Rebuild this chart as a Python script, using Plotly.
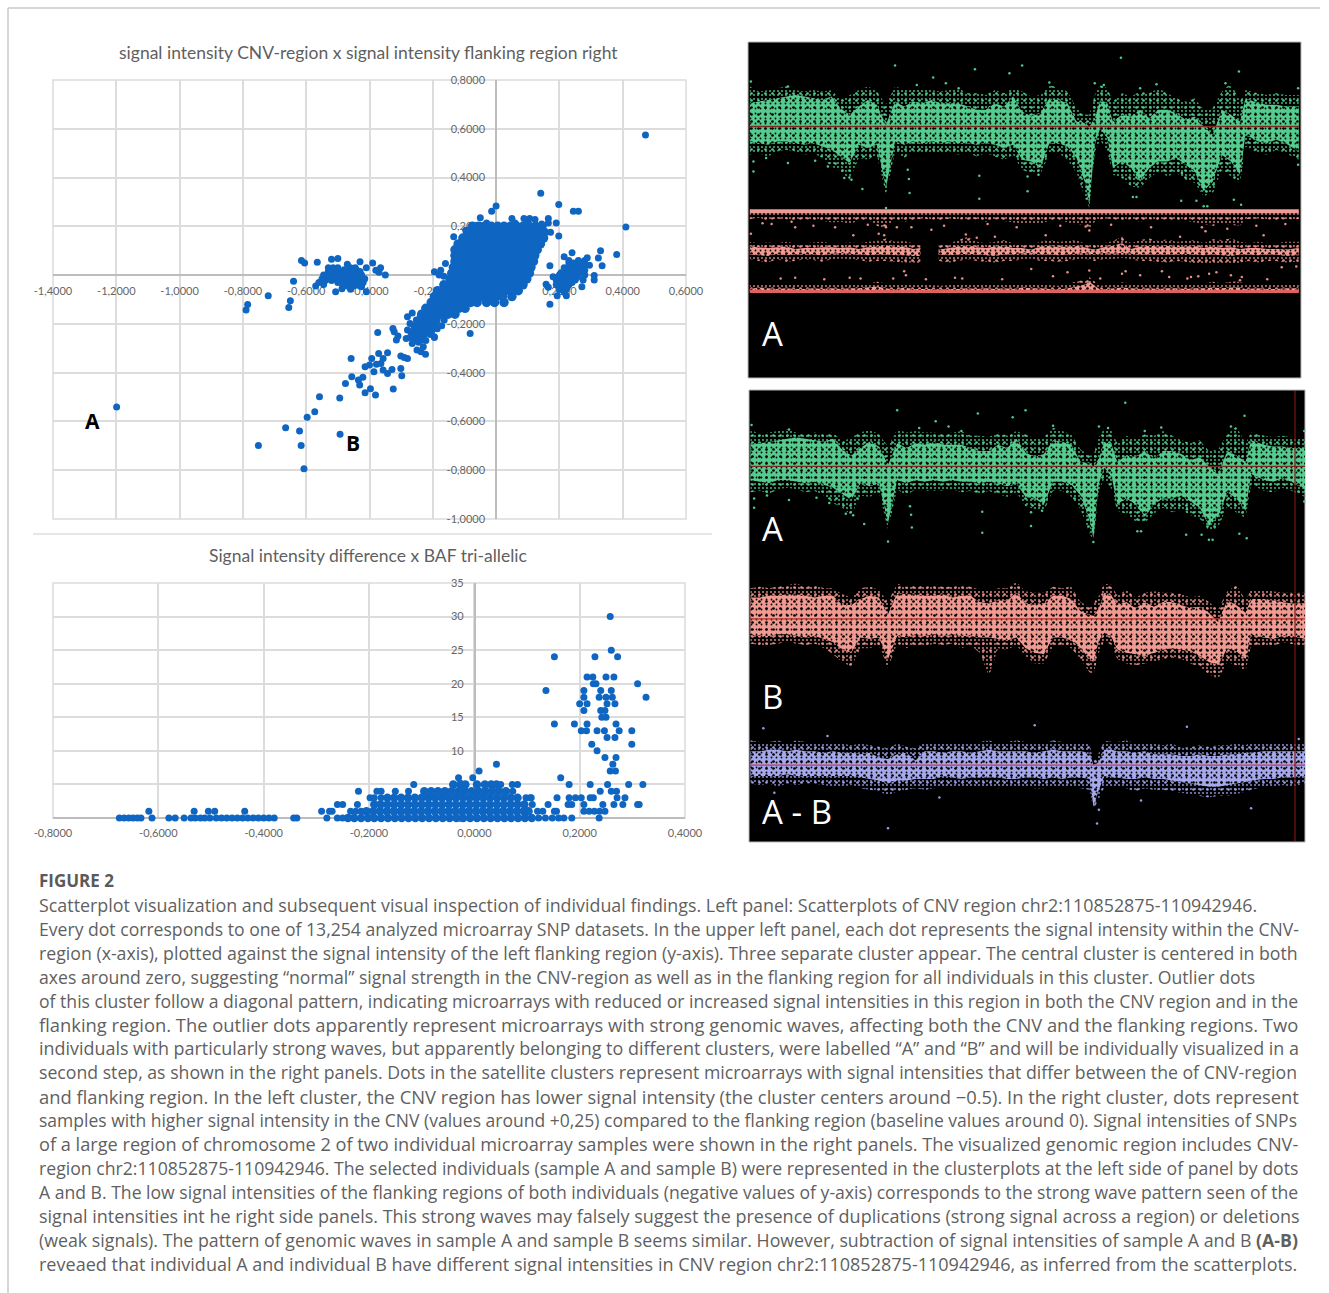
import plotly.graph_objects as go

W, H = 1329, 1293
def px(v): return v / W
def py(v): return 1 - v / H

# ---------- upper scatter: CNV-region x flanking region ----------
central_rows = [
 (.20,[-.075,-.055,-.035,-.015,.005,.025,.045,.065,.085,.105,.125,.145]),
 (.176,[-.09,-.068,-.046,-.024,-.002,.02,.042,.064,.086,.108,.13,.152]),
 (.152,[-.105,-.083,-.061,-.039,-.017,.005,.027,.049,.071,.093,.115,.137,.15]),
 (.128,[-.12,-.098,-.076,-.054,-.032,-.01,.012,.034,.056,.078,.10,.122,.14]),
 (.104,[-.13,-.108,-.086,-.064,-.042,-.02,.002,.024,.046,.068,.09,.112,.13]),
 (.08,[-.13,-.113,-.091,-.069,-.047,-.025,-.003,.019,.041,.063,.085,.107,.122]),
 (.056,[-.13,-.115,-.093,-.071,-.049,-.027,-.005,.017,.039,.061,.083,.105,.118]),
 (.032,[-.135,-.118,-.096,-.074,-.052,-.03,-.008,.014,.036,.058,.08,.102,.11]),
 (.008,[-.14,-.123,-.101,-.079,-.057,-.035,-.013,.009,.031,.053,.075,.097,.105]),
 (-.016,[-.145,-.13,-.108,-.086,-.064,-.042,-.02,.002,.024,.046,.068,.09,.097]),
 (-.04,[-.165,-.15,-.128,-.106,-.084,-.062,-.04,-.018,.004,.026,.048,.07,.085]),
 (-.064,[-.185,-.168,-.146,-.124,-.102,-.08,-.058,-.036,-.014,.008,.03,.052,.07]),
 (-.088,[-.195,-.178,-.156,-.134,-.112,-.09,-.068,-.046,-.024,-.002,.02,.05]),
 (-.112,[-.205,-.19,-.168,-.146,-.124,-.102,-.08,-.06,-.03,-.005,.025]),
 (-.136,[-.222,-.206,-.184,-.162,-.14,-.118,-.098]),
 (-.16,[-.235,-.218,-.196,-.174,-.152,-.13]),
]
central_edge_points = [
 (.05,.232),(.088,.232),(.106,.232),(.123,.228),(.165,.232),(-.03,.214),(.06,.214),(.10,.214),(.144,.21),(.165,.214),(.19,.214),(.172,.176),
 (-.18,.0),(-.195,.014),(-.16,.048),(-.134,.157),(-.096,.184),(-.175,.02),(-.165,-.005),
 (-.252,-.184),(-.23,-.184),(-.208,-.184),(-.186,-.184),(-.164,-.184),(-.26,-.208),(-.238,-.208),(-.216,-.208),(-.194,-.208),(-.172,-.208),
 (-.27,-.232),(-.248,-.232),(-.226,-.232),(-.204,-.232),(-.272,-.256),(-.25,-.256),(-.23,-.256),(-.195,-.256),
 (-.24,-.172),(-.222,-.172),(-.204,-.172),(-.186,-.172),(-.245,-.196),(-.227,-.196),(-.209,-.196),(-.191,-.196),(-.258,-.22),(-.24,-.22),(-.222,-.22),(-.204,-.22),(-.186,-.22),
 (-.262,-.244),(-.244,-.244),(-.226,-.244),(-.208,-.244),(-.26,-.268),(-.24,-.268),(-.222,-.268),
]
diagonal_points = [
 (.472,.574),(.141,.336),(.198,.29),(.244,.262),(.26,.262),(.41,.197),(0,.283),(-.014,.262),(-.05,.235),
 (.198,.16),
 (-.082,-.239),(-.374,-.235),(-.326,-.219),(-.322,-.232),(-.31,-.25),(-.315,-.266),(-.284,-.26),
 (-.265,-.28),(-.245,-.275),(-.23,-.294),(-.25,-.307),(-.237,-.314),(-.223,-.324),(-.195,-.253),(-.28,-.171),
 (-.265,-.155),(-.272,-.198),(-.28,-.225),(-.458,-.342),(-.393,-.342),(-.371,-.321),(-.357,-.342),(-.343,-.318),
 (-.364,-.362),(-.378,-.365),(-.4,-.369),(-.414,-.376),(-.386,-.396),(-.357,-.389),(-.343,-.403),(-.329,-.387),
 (-.301,-.383),(-.298,-.413),(-.301,-.332),(-.28,-.342),(-.29,-.338),(-.456,-.417),(-.421,-.419),(-.435,-.43),
 (-.431,-.451),(-.476,-.444),(-.414,-.482),(-.397,-.466),(-.381,-.492),(-.325,-.467),(-.494,-.504),(-.558,-.499),
 (-.573,-.56),(-.597,-.583),(-.665,-.626),(-.621,-.639),(-.616,-.699),(-.751,-.699),(-.607,-.794),(-.493,-.653),
 (-1.199,-.541),
]
left_cluster = [
 (-.53,.03),(-.515,.03),(-.5,.03),(-.46,.03),(-.445,.03),
 (-.53,.015),(-.51,.015),(-.49,.015),(-.47,.015),(-.45,.015),(-.43,.015),
 (-.545,0),(-.525,0),(-.505,0),(-.485,0),(-.465,0),(-.445,0),(-.425,0),
 (-.55,-.015),(-.53,-.015),(-.51,-.015),(-.49,-.015),(-.47,-.015),(-.45,-.015),(-.43,-.015),(-.415,-.015),
 (-.56,-.03),(-.5,-.03),(-.48,-.03),(-.46,-.03),(-.44,-.03),(-.42,-.03),
 (-.57,-.045),(-.47,-.045),(-.45,-.045),(-.43,-.045),
 (-.52,.022),(-.5,.022),(-.48,.022),(-.455,.022),(-.52,.008),(-.5,.008),(-.48,.008),(-.46,.008),(-.44,.008),
 (-.535,-.008),(-.515,-.008),(-.495,-.008),(-.475,-.008),(-.455,-.008),(-.435,-.008),(-.54,-.022),(-.52,-.022),
 (-.5,-.022),(-.48,-.022),(-.46,-.022),(-.44,-.022),(-.425,-.038),(-.445,-.038),(-.465,-.038),(-.485,-.038),(-.545,-.038),
 (-.615,.06),(-.605,.05),(-.565,.053),(-.64,-.025),(-.52,.065),(-.5,.068),(-.47,.045),(-.43,.055),(-.39,.05),
 (-.365,.03),(-.38,.02),(-.41,.03),(-.35,0),(-.37,.012),(-.507,-.068),(-.487,-.056),(-.46,-.058),(-.425,-.048),
 (-.41,-.068),(-.65,-.105),(-.655,-.133),(-.72,-.085),(-.785,-.12),(-.79,-.143),(-.44,.02),
]
right_cluster = [
 (.26,.06),(.28,.06),(.24,.04),(.26,.04),(.28,.04),(.22,.02),(.24,.02),(.26,.02),(.28,.02),
 (.2,0),(.22,0),(.24,0),(.26,0),(.19,-.02),(.21,-.02),(.23,-.02),(.25,-.02),(.19,-.04),(.21,-.04),(.23,-.04),
 (.2,-.06),(.22,-.06),(.215,.075),(.24,.092),(.23,.06),(.17,.038),(.158,-.037),(.18,-.007),(.17,-.119),
 (.205,.01),(.215,.03),(.23,.05),(.245,.05),(.27,.05),(.25,.03),(.27,.03),(.23,.03),(.21,.01),(.23,.01),(.25,.01),(.27,.01),
 (.195,-.01),(.215,-.01),(.235,-.01),(.255,-.01),(.2,-.03),(.22,-.03),(.24,-.03),(.205,-.05),(.225,-.05),(.28,.0),(.275,-.02),
 (.165,-.05),(.193,-.085),(.222,-.085),(.215,-.07),(.271,-.048),(.31,-.02),(.31,-.002),(.288,.071),(.295,.04),
 (.33,.10),(.323,.07),(.335,.038),(.381,.085),
]
upper_x_ticks = [-1.4,-1.2,-1.0,-.8,-.6,-.4,-.2,0,.2,.4,.6]
upper_x_labels = ["-1,4000","-1,2000","-1,0000","-0,8000","-0,6000","-0,4000","-0,2000","0,0000","0,2000","0,4000","0,6000"]
upper_y_ticks = [.8,.6,.4,.2,0,-.2,-.4,-.6,-.8,-1.0]
upper_y_labels = ["0,8000","0,6000","0,4000","0,2000","0,0000","-0,2000","-0,4000","-0,6000","-0,8000","-1,0000"]

# ---------- lower scatter: intensity difference x BAF tri-allelic ----------
dense_count_rows = {
 0:[-.24,-.228,-.215,-.202,-.19,-.177,-.164,-.151,-.138,-.125,-.112,-.099,-.086,-.073,-.06,-.047,-.034,-.021,-.008,.005,.018,.031,.044,.057,.07,.083,.096,.109],
 1:[-.205,-.192,-.179,-.166,-.153,-.14,-.127,-.114,-.101,-.088,-.075,-.062,-.049,-.036,-.023,-.01,.003,.016,.029,.042,.055,.068,.081,.094,.103],
 2:[-.19,-.178,-.165,-.152,-.139,-.126,-.113,-.1,-.087,-.074,-.061,-.048,-.035,-.022,-.009,.004,.017,.03,.043,.056,.069,.082,.095],
 3:[-.165,-.152,-.139,-.126,-.113,-.1,-.087,-.074,-.061,-.048,-.035,-.022,-.009,.004,.017,.03,.043,.056,.069,.082],
 4:[-.095,-.082,-.069,-.056,-.043,-.03,-.018,-.005,.008,.021,.034,.047,.06],
 5:[-.04,-.027,-.017,.005,.02,.032,.042],
}
count_rows = {
 0:[-.674,-.665,-.656,-.648,-.64,-.633,-.612,-.58,-.568,-.551,-.538,-.53,-.52,-.512,-.502,-.49,-.48,-.47,-.46,-.45,-.44,-.43,-.42,-.41,-.40,-.39,-.38,-.343,-.337,
    -.28,-.26,-.25,.122,.135,.148,.16,.17,.185,.237],
 1:[-.618,-.532,-.505,-.493,-.436,-.29,-.275,-.27,-.235,-.225,-.215,.12,.13,.152,.156,.208,.218,.228,.238,.248],
 2:[-.26,-.25,-.222,.11,.14,.178,.185,.208,.244,.265,.282,.31,.313],
 3:[-.198,-.19,-.177,.098,.106,.108,.157,.18,.192,.203,.22,.226,.271,.286],
 4:[-.22,-.185,-.177,-.15,-.125,.073,.239,.26,.27],
 5:[-.115,.05,.072,.082,.18,.22,.253,.293,.32],
 6:[-.03,-.003,.164],
 7:[.009,.258,.268],
 8:[.042,.263],
 9:[.248,.269],
 10:[.233],
 11:[.223,.299],
 12:[.252,.267],
 13:[.203,.213,.233,.247,.275,.299],
 14:[.152,.19,.214,.269],
 15:[.242,.25],
 16:[.208,.24,.248],
 17:[.2,.214,.252,.267],
 18:[.208,.237,.25,.262,.326],
 19:[.136,.208,.24,.26],
 20:[.226,.231,.31],
 21:[.214,.225,.25,.265],
 24:[.152,.229,.272],
 25:[.26],
 30:[.258],
}
lower_x_ticks = [-.8,-.6,-.4,-.2,0,.2,.4]
lower_x_labels = ["-0,8000","-0,6000","-0,4000","-0,2000","0,0000","0,2000","0,4000"]
lower_y_ticks = [0,5,10,15,20,25,30,35]
lower_y_labels = ["0","5","10","15","20","25","30","35"]

# ---------- genome browser tracks ----------
wave_pos = [25,50,75,100,125,150,175,200,225,250,
 275,300,325,350,375,400,425,450,475,500,
 525,550,575,600,625,650,675,700,725,750,
 775,800,825,850,875,900,925,950,960,975,
 990,1010,1025,1050,1075,1100,1125,1150,1175,1200,
 1225,1250,1275,1300,1325,1350,1375,1390,1425,1450,
 1475,1500,1537]
a_core_top = [.70,.75,.80,.85,.90,.95,.90,.85,.80,.90,
 .55,.35,.60,.80,.65,.05,.75,.60,.75,.70,
 .80,.70,.70,.70,.60,.50,.50,.70,.60,.90,
 .45,.30,.40,.85,.80,.70,.15,.10,0,.25,
 .80,.70,.15,.35,.30,.50,.25,.50,.50,.40,
 .20,.30,0,-.25,.50,.35,.15,.85,.70,.65,
 .65,.60,.60]
a_core_low = [-.45,-.50,-.55,-.45,-.45,-.50,-.55,-.50,-.60,-.70,
 -.90,-1.10,-.55,-.65,-.55,-1.85,-.45,-.55,-.45,-.50,
 -.45,-.50,-.45,-.50,-.50,-.55,-.50,-.55,-.65,-.55,
 -1.00,-1.05,-1.25,-.50,-.50,-.60,-.95,-1.75,-2.35,-.55,
 -.05,-.35,-1.25,-1.05,-1.25,-1.65,-1.25,-1.05,-1.05,-.95,
 -1.15,-1.35,-1.95,-1.65,-.85,-1.05,-1.45,-.25,-.45,-.50,
 -.40,-.50,-.75]
a_halo_top = [1.2,1.05,1.1,1.15,1.2,1.1,1.05,1.1,1.05,1.1,
 .8,.95,1.1,1.2,1.05,.65,1.2,1.1,1.15,1.1,
 1.1,1.05,1.1,1.15,1.0,1.0,.95,1.1,1.0,1.15,
 1.05,.9,.95,1.25,1.15,1.05,.55,.35,.35,.95,
 1.25,1.15,.75,1.0,.9,1.05,1.0,1.15,1.0,.85,
 .75,.85,.5,.55,1.05,1.3,.75,1.1,1.0,.95,
 1.0,.95,.95]
a_halo_low = [-.85,-.8,-.9,-.75,-.7,-.75,-.85,-.8,-.95,-1.2,
 -1.35,-1.6,-.95,-1.0,-.85,-2.05,-.75,-.95,-.75,-.8,
 -.8,-.8,-.75,-.85,-.8,-.9,-.8,-.9,-1.0,-.85,
 -1.3,-1.4,-1.45,-.8,-.8,-1.0,-1.4,-2.2,-2.45,-.8,
 -.4,-.75,-1.45,-1.55,-1.8,-1.85,-1.55,-1.35,-1.5,-1.4,
 -1.6,-1.7,-2.1,-2.0,-1.3,-1.5,-1.7,-.6,-.8,-.85,
 -.7,-.8,-1.0]
a_dot_pos = [28,425,645,775,740,1047,1372,530,35,35,130,205,285,305,335,400,463,465,657,657,790,790,1000,975,1335,1080,1090,1213,1255,1275,1285,1378,1358,1535,960,130,600,485,565,850,1145,1100,1535,70,240,460,820,1215]
a_dot_val = [1.35,1.83,1.72,1.83,1.6,2.07,1.65,1.47,-1.05,-1.35,-1.1,-1.03,-1.55,-1.6,-1.88,-2.45,-1.58,-2.0,-1.48,-2.17,-1.5,-1.95,1.25,1.3,1.3,-2.12,-2.12,-2.23,-2.23,-2.4,-2.4,-2.35,-2.2,-1.15,-2.47,1.2,1.15,1.25,1.3,1.32,1.27,1.15,1.15,-.95,-1.2,-1.3,-1.45,-1.4]

b_core_top = [.7,.7,.75,.75,.8,.8,.75,.7,.75,.75,
 .45,.45,.65,.75,.7,.15,.85,.8,.8,.75,
 .75,.8,.7,.75,.75,.55,.5,.6,.6,.85,
 .5,.45,.5,.75,.75,.65,.25,.15,.1,.35,
 .85,.75,.45,.55,.35,.55,.4,.55,.55,.45,
 .35,.4,.2,-.1,.6,.45,.2,.65,.65,.6,
 .55,.5,.5]
b_core_low = [-.5,-.55,-.55,-.5,-.5,-.55,-.6,-.55,-.65,-.75,
 -1.0,-1.1,-.6,-.65,-.6,-1.3,-.55,-.6,-.5,-.55,
 -.5,-.55,-.5,-.55,-.55,-.6,-.6,-.65,-.7,-.6,
 -.95,-1.1,-1.15,-.6,-.6,-.7,-.95,-1.3,-1.4,-.7,
 -.45,-.6,-1.0,-1.1,-1.15,-1.2,-1.1,-1.0,-.95,-1.0,
 -1.05,-1.2,-1.4,-1.5,-.95,-1.05,-1.3,-.5,-.6,-.65,
 -.55,-.55,-.65]
b_halo_top = [1.0,1.05,1.0,1.05,1.1,1.15,1.05,1.1,1.0,1.0,
 .8,.7,1.0,1.05,.95,.55,1.15,1.05,1.1,1.05,
 1.1,1.05,1.05,1.1,1.05,.95,.9,1.0,1.0,1.2,
 .9,.85,.85,1.05,1.0,1.05,.55,.4,.5,.75,
 1.15,1.1,.75,.95,.7,.85,.9,.85,.85,.8,
 .7,.75,.55,.3,.9,1.1,.6,.95,.95,.9,
 .85,.85,.85]
b_halo_low = [-.8,-.85,-.85,-.8,-.75,-.8,-.85,-.8,-.95,-1.15,
 -1.4,-1.55,-.95,-.95,-.85,-1.6,-.8,-.95,-.85,-.9,
 -.8,-.85,-.8,-.95,-.85,-1.1,-1.85,-.95,-1.0,-.85,
 -1.2,-1.45,-1.45,-.9,-.85,-.95,-1.3,-1.75,-1.8,-1.1,
 -.7,-.85,-1.3,-1.45,-1.5,-1.45,-1.4,-1.3,-1.25,-1.3,
 -1.45,-1.55,-1.8,-1.95,-1.4,-1.5,-1.7,-.85,-.85,-.9,
 -.75,-.8,-.9]

ab_core_top = [.45,.45,.5,.5,.45,.5,.45,.45,.4,.45,
 .4,.4,.35,.4,.25,.2,.35,.4,.15,.45,
 .45,.4,.45,.45,.4,.45,.5,.45,.45,.45,
 .45,.4,.45,.5,.45,.45,.45,.4,.0,.1,
 .5,.5,.45,.45,.4,.45,.35,.35,.35,.3,
 .3,.35,.3,.3,.35,.35,.4,.4,.45,.45,
 .45,.45,.45]
ab_core_low = [-.35,-.35,-.35,-.35,-.3,-.35,-.35,-.35,-.35,-.35,
 -.35,-.35,-.4,-.45,-.5,-.6,-.5,-.5,-.45,-.45,
 -.45,-.35,-.4,-.45,-.4,-.4,-.4,-.4,-.45,-.45,
 -.4,-.4,-.45,-.4,-.45,-.4,-.4,-.45,-1.35,-.8,
 -.35,-.4,-.4,-.45,-.45,-.4,-.45,-.45,-.5,-.55,
 -.6,-.65,-.7,-.7,-.65,-.6,-.55,-.5,-.45,-.45,
 -.4,-.4,-.35]
ab_halo_top = [.8,.75,.75,.8,.7,.8,.75,.7,.75,.7,
 .7,.65,.7,.65,.6,.55,.7,.6,.55,.75,
 .7,.7,.75,.7,.75,.75,.8,.7,.75,.8,
 .75,.7,.7,.8,.75,.7,.75,.7,.1,.4,
 .8,.75,.75,.8,.7,.7,.7,.65,.7,.55,
 .6,.65,.6,.65,.65,.7,.65,.75,.7,.75,
 .7,.7,.75]
ab_halo_low = [-.6,-.65,-.6,-.7,-.6,-.65,-.6,-.6,-.65,-.7,
 -.7,-.65,-.75,-.8,-.85,-1.0,-.85,-.8,-.75,-.8,
 -.75,-.7,-.7,-.75,-.7,-.7,-.7,-.75,-.7,-.75,
 -.7,-.75,-.75,-.7,-.7,-.7,-.75,-.8,-1.45,-1.1,
 -.7,-.7,-.7,-.75,-.85,-.75,-.8,-.8,-.85,-.9,
 -.95,-1.0,-1.05,-1.0,-1.0,-.95,-.85,-.8,-.7,-.7,
 -.65,-.7,-.6]
ab_dot_pos = [60,800,1215,400,970,975,1520,540,90,1390,1090,235]
ab_dot_val = [1.2,1.3,1.25,-2.05,-1.9,-1.45,.85,-1.05,-.9,-1.4,-1.15,.95]

baf_top_low = [.90,.92,.88,.91,.90,.88,.90,.89,.88,.86,
 .87,.84,.88,.90,.82,.78,.90,.87,.89,.91,
 .90,.88,.91,.90,.89,.90,.87,.90,.88,.86,
 .84,.85,.84,.88,.89,.86,.83,.84,.76,.87,
 .90,.91,.90,.88,.90,.87,.90,.88,.90,.88,
 .88,.86,.84,.82,.85,.83,.82,.90,.91,.90,
 .88,.90,.90]
baf_low_core = [.03,.05,.04,.03,.04,.03,.03,.04,.03,.04,
 .03,.04,.04,.05,.06,.04,.02,.05,.03,.03,
 .03,.02,.03,.03,.04,.03,.04,.03,.04,.03,
 .05,.04,.04,.03,.02,.04,.06,.09,.12,.07,
 .02,.03,.04,.05,.04,.03,.04,.03,.04,.04,
 .03,.04,.04,.05,.04,.05,.05,.03,.04,.03,
 .03,.04,.04]
baf_low_halo = [.08,.10,.08,.09,.09,.08,.08,.10,.08,.09,
 .08,.10,.09,.10,.12,.10,.08,.10,.08,.08,
 .08,.07,.08,.08,.09,.08,.09,.08,.09,.08,
 .10,.09,.10,.08,.07,.10,.12,.15,.18,.12,
 .07,.08,.10,.11,.10,.09,.10,.09,.10,.09,
 .09,.10,.10,.12,.10,.12,.12,.08,.09,.08,
 .08,.09,.09]
baf_mid_pos_left = [25,50,75,100,125,150,175,200,225,250,275,300,325,350,375,400,425,450,475,495]
baf_mid_top_left = [.56,.55,.54,.55,.56,.53,.54,.54,.55,.55,.54,.55,.53,.55,.56,.58,.55,.56,.53,.54]
baf_mid_low_left = [.46,.45,.44,.47,.45,.46,.47,.46,.45,.47,.48,.47,.46,.45,.46,.46,.45,.45,.44,.44]
baf_halo_top_left = [.62,.60,.61,.60,.62,.60,.60,.61,.62,.60,.60,.61,.60,.62,.63,.66,.62,.63,.60,.60]
baf_halo_low_left = [.40,.38,.36,.40,.37,.38,.40,.39,.37,.40,.41,.40,.39,.37,.38,.38,.37,.36,.36,.35]
baf_mid_pos_right = [545,575,600,625,650,675,700,725,750,775,800,825,850,875,900,925,945,975,1000,1025,1050,1075,1100,1125,1150,1175,1200,1225,1250,1275,1300,1325,1350,1375,1400,1425,1450,1475,1500,1537]
baf_mid_top_right = [.52,.54,.56,.58,.55,.54,.56,.57,.54,.54,.52,.56,.57,.55,.56,.57,.55,.52,.55,.57,.60,.53,.56,.57,.56,.57,.55,.56,.57,.54,.56,.54,.55,.53,.54,.54,.53,.53,.52,.54]
baf_mid_low_right = [.46,.45,.46,.47,.46,.45,.44,.46,.46,.48,.48,.46,.46,.45,.46,.47,.48,.46,.48,.47,.48,.47,.46,.46,.46,.46,.46,.47,.46,.45,.46,.45,.44,.46,.46,.45,.46,.46,.44,.45]
baf_halo_top_right = [.58,.60,.64,.68,.62,.60,.62,.64,.60,.60,.58,.62,.64,.62,.63,.64,.60,.58,.60,.63,.68,.60,.64,.66,.63,.65,.62,.63,.64,.60,.65,.64,.66,.62,.60,.62,.60,.60,.62,.62]
baf_halo_low_right = [.38,.36,.38,.40,.38,.37,.36,.38,.38,.40,.41,.38,.38,.37,.38,.40,.41,.38,.40,.40,.42,.40,.38,.38,.37,.36,.38,.37,.35,.34,.36,.33,.33,.36,.38,.36,.38,.38,.36,.37]
baf_dot_pos = [140,150,85,400,430,380,395,310,28,700,650,620,1270,1280,1210,1310,960,1060,1380,1375,1100,150,330,455,610,900,1160,1230,1490,1530,840,1050,1240,800,950,960,525,450,1290,1440,
 60,200,260,350,470,560,680,760,880,1020,1130,1340,1420,1500,110,230,300,420,510,590,720,860,990,1180,1260,1350,1450]
baf_dot_val = [.87,.80,.84,.80,.80,.72,.70,.70,.72,.68,.67,.71,.80,.75,.68,.24,.76,.25,.18,.14,.20,.17,.16,.20,.16,.24,.25,.16,.30,.31,.70,.22,.18,.28,.81,.26,.77,.25,.22,.70,
 .85,.82,.80,.83,.80,.82,.84,.80,.82,.83,.80,.78,.82,.84,.16,.15,.17,.16,.15,.17,.15,.19,.16,.18,.19,.20,.15]

# ---------- caption ----------
figure_label = "FIGURE 2"
caption_lines = [
 "Scatterplot visualization and subsequent visual inspection of individual findings. Left panel: Scatterplots of CNV region chr2:110852875-110942946.",
 "Every dot corresponds to one of 13,254 analyzed microarray SNP datasets. In the upper left panel, each dot represents the signal intensity within the CNV-",
 "region (x-axis), plotted against the signal intensity of the left flanking region (y-axis). Three separate cluster appear. The central cluster is centered in both",
 "axes around zero, suggesting “normal” signal strength in the CNV-region as well as in the flanking region for all individuals in this cluster. Outlier dots",
 "of this cluster follow a diagonal pattern, indicating microarrays with reduced or increased signal intensities in this region in both the CNV region and in the",
 "flanking region. The outlier dots apparently represent microarrays with strong genomic waves, affecting both the CNV and the flanking regions. Two",
 "individuals with particularly strong waves, but apparently belonging to different clusters, were labelled “A” and “B” and will be individually visualized in a",
 "second step, as shown in the right panels. Dots in the satellite clusters represent microarrays with signal intensities that differ between the of CNV-region",
 "and flanking region. In the left cluster, the CNV region has lower signal intensity (the cluster centers around −0.5). In the right cluster, dots represent",
 "samples with higher signal intensity in the CNV (values around +0,25) compared to the flanking region (baseline values around 0). Signal intensities of SNPs",
 "of a large region of chromosome 2 of two individual microarray samples were shown in the right panels. The visualized genomic region includes CNV-",
 "region chr2:110852875-110942946. The selected individuals (sample A and sample B) were represented in the clusterplots at the left side of panel by dots",
 "A and B. The low signal intensities of the flanking regions of both individuals (negative values of y-axis) corresponds to the strong wave pattern seen of the",
 "signal intensities int he right side panels. This strong waves may falsely suggest the presence of duplications (strong signal across a region) or deletions",
 "(weak signals). The pattern of genomic waves in sample A and sample B seems similar. However, subtraction of signal intensities of sample A and B <b>(A-B)</b>",
 "reveaed that individual A and individual B have different signal intensities in CNV region chr2:110852875-110942946, as inferred from the scatterplots.",
]
caption_y = [905,929,953,977,1001,1024,1048,1072,1096,1120,1144,1168,1192,1216,1240,1264]
caption_size = [17.86,17.6,17.73,17.64,17.6,18.37,17.93,17.68,18.35,17.53,18.18,17.67,17.6,18.0,17.77,18.05]

for arr in (a_core_top,a_core_low,a_halo_top,a_halo_low,b_core_top,b_core_low,b_halo_top,b_halo_low,
            ab_core_top,ab_core_low,ab_halo_top,ab_halo_low,baf_top_low,baf_low_core,baf_low_halo):
    assert len(arr) == len(wave_pos), len(arr)

BLUE = "#0F66C2"
GRAY = "#5f5f5f"
GRID = "#dcdcdc"
TICK = dict(family="Lato, Open Sans, sans-serif", size=11, color="#666666")

fig = go.Figure()

def band(xa, ya, x, low, top, color, halo=False):
    xs = list(x) + list(x)[::-1]
    ys = list(top) + list(low)[::-1]
    if halo:
        layers = [dict(shape=".", size=4, solidity=.16, fgcolor=color, bgcolor="rgba(0,0,0,0)", fillmode="replace"),
                  dict(shape=".", size=7, solidity=.12, fgcolor=color, bgcolor="rgba(0,0,0,0)", fillmode="replace")]
    else:
        layers = [dict(shape=".", size=5, solidity=.10, fgcolor="black", bgcolor=color, fillmode="replace"),
                  dict(shape=".", size=7, solidity=.12, fgcolor="black", bgcolor="rgba(0,0,0,0)", fillmode="replace")]
    for pat in layers:
        fig.add_trace(go.Scatter(x=xs, y=ys, mode="lines", fill="toself", fillpattern=pat, line=dict(width=0),
                                 hoverinfo="skip", showlegend=False, xaxis=xa, yaxis=ya))

def dots(xa, ya, x, y, color, size):
    fig.add_trace(go.Scatter(x=x, y=y, mode="markers", marker=dict(color=color, size=size, line=dict(width=0)),
                             showlegend=False, cliponaxis=False, xaxis=xa, yaxis=ya))

def rule(xa, ya, x, y, color, width):
    fig.add_trace(go.Scatter(x=x, y=y, mode="lines", line=dict(color=color, width=width),
                             showlegend=False, hoverinfo="skip", xaxis=xa, yaxis=ya))

# upper scatter
ux = [p[0] for p in diagonal_points + left_cluster + right_cluster + central_edge_points]
uy = [p[1] for p in diagonal_points + left_cluster + right_cluster + central_edge_points]
dots("x", "y", ux, uy, BLUE, 7)
cx, cy = [], []
for yv, xs in central_rows:
    cx += xs
    cy += [yv] * len(xs)
dots("x", "y", cx, cy, BLUE, 9.5)

# lower scatter
lx, ly = [], []
for cnt, xs in count_rows.items():
    lx += xs
    ly += [cnt] * len(xs)
dots("x2", "y2", lx, ly, BLUE, 7)
dx, dy = [], []
for cnt, xs in dense_count_rows.items():
    dx += xs
    dy += [cnt] * len(xs)
dots("x2", "y2", dx, dy, BLUE, 8.5)

GREEN_DOT, GREEN_CORE = "#4fca8a", "#55cc8e"
PINK_DOT, PINK_CORE = "#e58f88", "#f09a92"
VIO_DOT, VIO_CORE = "#9a9ee0", "#a5a9ec"
LINE_DARK = "#7c2a1f"
LINE_RED = "#b5342e"

# panel 1 green track
band("x3", "y3", wave_pos, a_halo_low, a_halo_top, GREEN_DOT, halo=True)
band("x3", "y3", wave_pos, a_core_low, a_core_top, GREEN_CORE)
dots("x3", "y3", a_dot_pos, a_dot_val, GREEN_DOT, 2.5)
rule("x3", "y3", [25, 1537], [0, 0], LINE_DARK, 1.5)

# panel 1 BAF track
band("x4", "y4", wave_pos, baf_top_low, [1.0] * len(wave_pos), PINK_DOT, halo=True)
band("x4", "y4", wave_pos, [0] * len(wave_pos), baf_low_halo, PINK_DOT, halo=True)
band("x4", "y4", wave_pos, [0] * len(wave_pos), baf_low_core, PINK_CORE)
band("x4", "y4", baf_mid_pos_left, baf_halo_low_left, baf_halo_top_left, PINK_DOT, halo=True)
band("x4", "y4", baf_mid_pos_right, baf_halo_low_right, baf_halo_top_right, PINK_DOT, halo=True)
band("x4", "y4", baf_mid_pos_left, baf_mid_low_left, baf_mid_top_left, PINK_CORE)
band("x4", "y4", baf_mid_pos_right, baf_mid_low_right, baf_mid_top_right, PINK_CORE)
dots("x4", "y4", baf_dot_pos, baf_dot_val, PINK_DOT, 2.5)
rule("x4", "y4", [25, 1537], [1, 1], "#ee9a96", 4)
rule("x4", "y4", [25, 1537], [0, 0], "#e0625f", 3)

# panel 2 tracks
band("x5", "y5", wave_pos, a_halo_low, a_halo_top, GREEN_DOT, halo=True)
band("x5", "y5", wave_pos, a_core_low, a_core_top, GREEN_CORE)
dots("x5", "y5", a_dot_pos, a_dot_val, GREEN_DOT, 2.5)
rule("x5", "y5", [21, 1537], [0, 0], LINE_DARK, 1.2)

band("x6", "y6", wave_pos, b_halo_low, b_halo_top, PINK_DOT, halo=True)
band("x6", "y6", wave_pos, b_core_low, b_core_top, PINK_CORE)
rule("x6", "y6", [21, 1537], [0, 0], LINE_RED, 1.2)

band("x7", "y7", wave_pos, ab_halo_low, ab_halo_top, VIO_DOT, halo=True)
band("x7", "y7", wave_pos, ab_core_low, ab_core_top, VIO_CORE)
dots("x7", "y7", ab_dot_pos, ab_dot_val, VIO_DOT, 2.5)
rule("x7", "y7", [21, 1537], [0, 0], "#c0395a", 1.2)

hidden = dict(visible=False, showgrid=False, zeroline=False, fixedrange=True, automargin=False)
free_axis = dict(gridcolor=GRID, gridwidth=1.5, showline=True, linecolor="#bdbdbd", linewidth=1.5, zeroline=False,
                 tickfont=TICK, ticks="", layer="below traces", automargin=False, ticklabeloverflow="allow")
layout_axes = dict(
    xaxis=dict(domain=[px(53), px(686)], range=[-1.4, .6], tickvals=upper_x_ticks, ticktext=upper_x_labels,
               anchor="free", position=py(275), tickangle=0, ticklabelstandoff=6, **free_axis),
    yaxis=dict(domain=[py(519), py(80)], range=[-1.0, .8], tickvals=upper_y_ticks, ticktext=upper_y_labels,
               anchor="free", position=px(496), ticklabelstandoff=8, **free_axis),
    xaxis2=dict(domain=[px(53), px(685)], range=[-.8, .4], tickvals=lower_x_ticks, ticktext=lower_x_labels,
                anchor="free", position=py(818), tickangle=0, ticklabelstandoff=5, **free_axis),
    yaxis2=dict(domain=[py(818), py(583)], range=[0, 35], tickvals=lower_y_ticks, ticktext=lower_y_labels,
                anchor="free", position=px(474.7), ticklabelstandoff=8, **free_axis),
    xaxis3=dict(domain=[px(748), px(1301)], range=[20, 1543], anchor="y3", **hidden),
    yaxis3=dict(domain=[py(208), py(41)], range=[-2.45, 2.57], anchor="x3", **hidden),
    xaxis4=dict(domain=[px(748), px(1301)], range=[20, 1543], anchor="y4", **hidden),
    yaxis4=dict(domain=[py(378), py(208)], range=[-1.08, 1.04], anchor="x4", **hidden),
    xaxis5=dict(domain=[px(749), px(1305)], range=[21, 1537], anchor="y5", **hidden),
    yaxis5=dict(domain=[py(542), py(390)], range=[-2.47, 2.49], anchor="x5", **hidden),
    xaxis6=dict(domain=[px(749), px(1305)], range=[21, 1537], anchor="y6", **hidden),
    yaxis6=dict(domain=[py(695), py(542)], range=[-2.47, 2.5], anchor="x6", **hidden),
    xaxis7=dict(domain=[px(749), px(1305)], range=[21, 1537], anchor="y7", **hidden),
    yaxis7=dict(domain=[py(842), py(695)], range=[-2.5, 2.28], anchor="x7", **hidden),
)

def rect(x0, y0, x1, y1, fill="black", edge="#b8b8b8", width=1):
    return dict(type="rect", xref="paper", yref="paper", x0=px(x0), x1=px(x1), y0=py(y1), y1=py(y0),
                fillcolor=fill, line=dict(color=edge, width=width), layer="below")

def seg(x0, y0, x1, y1, color, width, layer="below"):
    return dict(type="line", xref="paper", yref="paper", x0=px(x0), x1=px(x1), y0=py(y0), y1=py(y1),
                line=dict(color=color, width=width), layer=layer)

shapes = [rect(748, 42, 1301, 378), rect(749, 390, 1305, 842),
          rect(53, 80, 686, 519, "rgba(0,0,0,0)", GRID, 1.5), rect(53, 583, 685, 818, "rgba(0,0,0,0)", GRID, 1.5),
          seg(8, 8, 1320, 8, "#c8c8c8", 1.5), seg(8, 8, 8, 1293, "#c8c8c8", 1.5),
          seg(33, 534, 712, 534, "#e6e6e6", 2),
          seg(1295, 391, 1295, 841, "#7d1414", 1.2, "above")]

def text(xp, yp, s, size, color, family="Lato, sans-serif", anchor="center", bold=False):
    return dict(x=px(xp), y=py(yp), xref="paper", yref="paper", text=f"<b>{s}</b>" if bold else s, showarrow=False,
                xanchor=anchor, yanchor="middle", font=dict(family=family, size=size, color=color))

WHITE_FONT = "Open Sans, sans-serif"
CAPTION_FONT = "Open Sans, sans-serif"
annotations = [
    text(368, 52, "signal intensity CNV-region x signal intensity flanking region right", 17.5, GRAY),
    text(368, 555, "Signal intensity difference x BAF tri-allelic", 17.5, GRAY),
    text(92, 421, "A", 21, "black", "Open Sans, sans-serif", bold=True),
    text(353, 443, "B", 21, "black", "Open Sans, sans-serif", bold=True),
    text(772, 333, "A", 33, "white", WHITE_FONT),
    text(772, 528, "A", 33, "white", WHITE_FONT),
    text(772, 696, "B", 33, "white", WHITE_FONT),
    text(797, 811, "A - B", 33, "white", WHITE_FONT),
    text(37, 880, figure_label, 17, "#5a5a5a", CAPTION_FONT, anchor="left", bold=True),
]
for line, yy, sz in zip(caption_lines, caption_y, caption_size):
    annotations.append(text(37, yy, line, sz, "#5f5f5f", CAPTION_FONT, anchor="left"))

fig.update_layout(width=W, height=H, margin=dict(l=0, r=0, t=0, b=0), autosize=False,
                  paper_bgcolor="white", plot_bgcolor="rgba(0,0,0,0)", showlegend=False,
                  shapes=shapes, annotations=annotations, **layout_axes)
fig.write_html("out.html", post_script="document.body.style.margin='0';document.documentElement.style.overflow='hidden';",
               config=dict(displayModeBar=False))
